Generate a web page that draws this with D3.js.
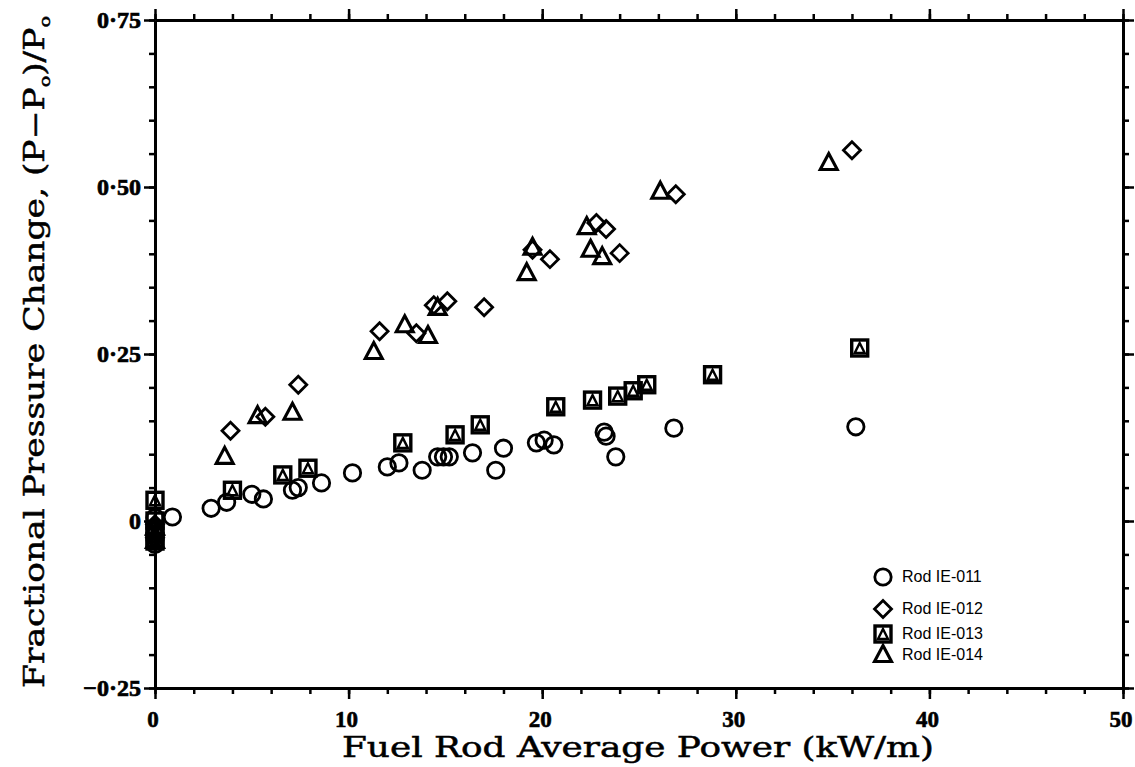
<!DOCTYPE html>
<html><head><meta charset="utf-8">
<script src="https://cdn.jsdelivr.net/npm/d3@7"></script>
<style>body{margin:0;background:#fff}svg{display:block}</style>
</head><body>
<script>
// ---- data (x: kW/m, y: fractional pressure change) ----
const seriesNames = ["Rod IE-011","Rod IE-012","Rod IE-013","Rod IE-014"];
const rod011 = [[0,0.005],[0,-0.01],[0,-0.02],[0,-0.03],[0,-0.035],[0.9,0.006],[2.9,0.019],[3.7,0.028],[5.0,0.040],[5.6,0.033],
  [7.1,0.046],[7.4,0.050],[8.6,0.057],[10.2,0.072],[12.0,0.081],[12.6,0.087],[13.8,0.076],[14.6,0.096],[14.9,0.096],[15.2,0.096],
  [16.4,0.102],[17.6,0.076],[18.0,0.109],[19.7,0.117],[20.1,0.121],[20.6,0.114],[23.2,0.133],[23.3,0.127],[23.8,0.096],[26.8,0.139],[36.2,0.141]];
const rod012 = [[0,-0.005],[0,-0.025],[3.9,0.135],[5.7,0.156],[7.4,0.204],[11.6,0.284],[13.5,0.281],[14.4,0.323],[15.1,0.329],
  [17.0,0.320],[19.5,0.406],[20.4,0.392],[22.8,0.446],[23.3,0.437],[24.0,0.401],[26.9,0.489],[36.0,0.555]];
const rod013 = [[0,0.031],[0,0.0],[0,-0.015],[0,-0.03],[4.0,0.046],[6.6,0.069],[7.9,0.079],[12.8,0.117],[15.5,0.129],[16.8,0.144],
  [20.7,0.171],[22.6,0.181],[23.9,0.187],[24.7,0.195],[25.4,0.204],[28.8,0.219],[36.4,0.259]];
const rod014 = [[0,-0.01],[0,-0.03],[3.6,0.096],[5.3,0.157],[7.1,0.162],[11.3,0.253],[12.9,0.293],[14.1,0.277],[14.6,0.319],
  [19.2,0.371],[19.5,0.409],[22.3,0.440],[22.5,0.406],[23.1,0.395],[26.1,0.493],[34.8,0.536]];
const xTicks = [0,10,20,30,40,50];
const xTickLabels = ["0","10","20","30","40","50"];
const yTicks = [-0.25,0,0.25,0.5,0.75];
const yTickLabels = ["\u22120\u00b725","0","0\u00b725","0\u00b750","0\u00b775"];
const xTitle = "Fuel Rod Average Power (kW/m)";

const W = 1135, H = 767;
const svg = d3.select("body").append("svg").attr("width",W).attr("height",H);
const x = d3.scaleLinear().domain([0,50]).range([155,1123]);
const y = d3.scaleLinear().domain([-0.25,0.75]).range([688,20]);

const minorX = d3.range(0,50.001,2);
const minorY = d3.range(-0.25,0.7501,0.05);

function styleAxis(g){
  g.select(".domain").attr("stroke","#000").attr("stroke-width",3);
  g.selectAll(".tick line").attr("stroke","#000").attr("stroke-width",2.5);
  g.selectAll(".tick text").remove();
}
// frame + ticks (all outward)
[[d3.axisBottom(x),0,688],[d3.axisTop(x),0,20]].forEach(([ax,tx,ty])=>{
  svg.append("g").attr("transform",`translate(${tx},${ty})`).call(ax.tickValues(minorX).tickSize(6).tickSizeOuter(0)).call(styleAxis);
  svg.append("g").attr("transform",`translate(${tx},${ty})`).call(ax.tickValues(xTicks).tickSize(11).tickSizeOuter(0)).call(styleAxis);
});
[[d3.axisLeft(y),155],[d3.axisRight(y),1123]].forEach(([ax,tx])=>{
  svg.append("g").attr("transform",`translate(${tx},0)`).call(ax.tickValues(minorY).tickSize(6).tickSizeOuter(0)).call(styleAxis);
  svg.append("g").attr("transform",`translate(${tx},0)`).call(ax.tickValues(yTicks).tickSize(11).tickSizeOuter(0)).call(styleAxis);
});

// tick labels
svg.append("g").selectAll("text").data(xTicks).join("text")
  .attr("x",d=>x(d)-2).attr("y",727).attr("text-anchor","middle")
  .attr("font-family","Liberation Serif").attr("font-weight","bold").attr("font-size",23)
  .attr("stroke","#000").attr("stroke-width",0.6)
  .text((d,i)=>xTickLabels[i]);
svg.append("g").selectAll("text").data(yTicks).join("text")
  .attr("x",141).attr("y",d=>y(d)+8).attr("text-anchor","end")
  .attr("font-family","Liberation Serif").attr("font-weight","bold").attr("font-size",24)
  .attr("stroke","#000").attr("stroke-width",0.7)
  .text((d,i)=>yTickLabels[i]);

// axis titles
svg.append("text").attr("x",638).attr("y",757).attr("text-anchor","middle")
  .attr("font-family","DejaVu Serif").attr("font-size",28)
  .attr("stroke","#000").attr("stroke-width",0.5)
  .attr("textLength",592).attr("lengthAdjust","spacingAndGlyphs").text(xTitle);
const yt = svg.append("text").attr("transform","translate(44,352) rotate(-90)").attr("text-anchor","middle")
  .attr("font-family","DejaVu Serif").attr("font-size",27)
  .attr("stroke","#000").attr("stroke-width",0.5)
  .attr("textLength",672).attr("lengthAdjust","spacingAndGlyphs");
yt.append("tspan").text("Fractional Pressure Change, (P\u2212P");
yt.append("tspan").attr("font-size",15).attr("dy",6).text("o");
yt.append("tspan").attr("dy",-6).text(")/P");
yt.append("tspan").attr("font-size",15).attr("dy",6).text("o");

// symbols
const SW = 2.8;
function circle(g,cx,cy){ g.append("circle").attr("cx",cx).attr("cy",cy).attr("r",8.2).attr("fill","none").attr("stroke","#000").attr("stroke-width",SW); }
function diamond(g,cx,cy){ g.append("path").attr("d",`M${cx},${cy-8.5}L${cx+8.5},${cy}L${cx},${cy+8.5}L${cx-8.5},${cy}Z`).attr("fill","none").attr("stroke","#000").attr("stroke-width",SW); }
function triangle(g,cx,cy){ g.append("path").attr("d",`M${cx},${cy-9.5}L${cx+8.5},${cy+6.5}L${cx-8.5},${cy+6.5}Z`).attr("fill","none").attr("stroke","#000").attr("stroke-width",SW+0.3).attr("stroke-linejoin","miter"); }
function square(g,cx,cy){
  g.append("rect").attr("x",cx-8).attr("y",cy-8).attr("width",16).attr("height",16).attr("fill","none").attr("stroke","#000").attr("stroke-width",3.4);
  g.append("path").attr("d",`M${cx},${cy-5}L${cx+5},${cy+5}L${cx-5},${cy+5}Z`).attr("fill","none").attr("stroke","#000").attr("stroke-width",2.4);
}
const drawers = [circle,diamond,square,triangle];
const seriesData = [rod011,rod012,rod013,rod014];
const plot = svg.append("g");
seriesData.forEach((arr,i)=>{
  const g = plot.append("g");
  arr.forEach(d=>drawers[i](g,x(d[0]),y(d[1])));
});

// legend
const legY = [577,609,634,655];
const leg = svg.append("g");
seriesNames.forEach((n,i)=>{
  drawers[i](leg,883,legY[i]);
  leg.append("text").attr("x",902).attr("y",legY[i]+5).attr("font-family","Liberation Sans").attr("font-size",16).text(n);
});
</script>
</body></html>
